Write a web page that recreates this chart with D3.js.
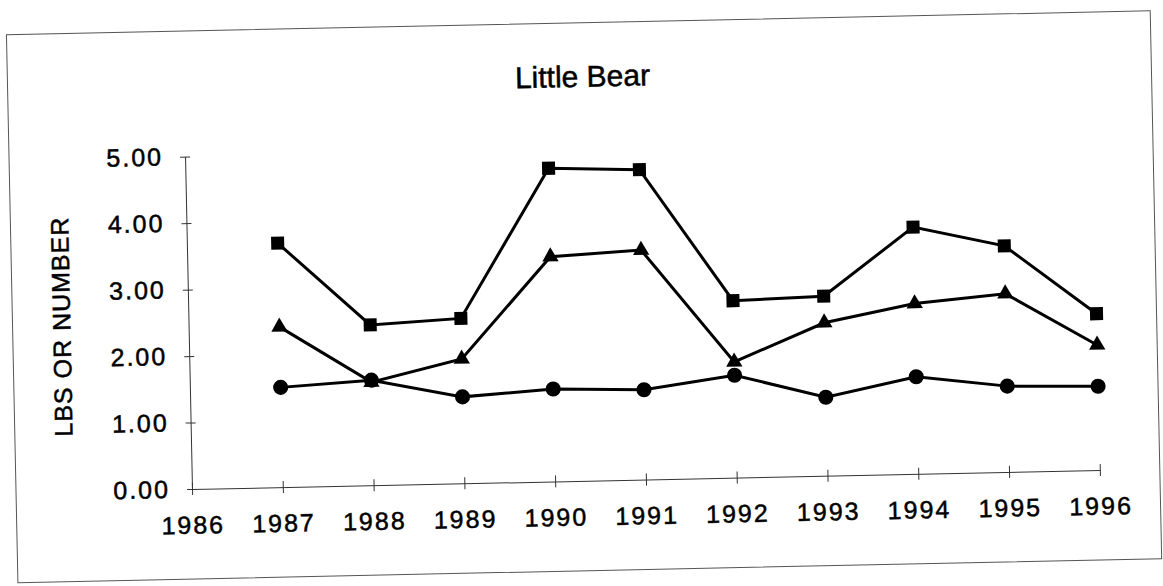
<!DOCTYPE html>
<html>
<head>
<meta charset="utf-8">
<script src="https://cdn.jsdelivr.net/npm/d3@7"></script>
<style>
    body { margin: 0; background: #fff; }
    svg { display: block; font-family: "Liberation Sans", Arial, sans-serif; }
    svg text { fill: #000; stroke: #000; stroke-width: 0.5; }
    .axis path, .axis line { stroke: #333; stroke-width: 1; }
    .axis text { font-size: 25px; letter-spacing: 2px; }
    .series path.line { fill: none; stroke: #000; stroke-width: 3; }
</style>
</head>
<body>
<svg width="1163" height="586"></svg>
<script>
const title = "Little Bear"
const y_label = "LBS OR NUMBER"
const years = [1987, 1988, 1989, 1990, 1991, 1992, 1993, 1994, 1995, 1996]
const x_ticks = [1986, 1987, 1988, 1989, 1990, 1991, 1992, 1993, 1994, 1995, 1996]
const y_ticks = [0, 1, 2, 3, 4, 5]

// three unnamed series, told apart only by marker shape
const squares = [3.67, 2.41, 2.48, 4.71, 4.66, 2.66, 2.70, 3.71, 3.40, 2.35]
const triangles = [2.41, 1.55, 1.87, 3.38, 3.45, 1.74, 2.30, 2.56, 2.68, 1.88]
const circles = [1.50, 1.58, 1.30, 1.39, 1.35, 1.54, 1.18, 1.46, 1.29, 1.26]

const series = [
    {values: squares, symbol: d3.symbolSquare, size: 170},
    {values: triangles, symbol: d3.symbolTriangle, size: 115},
    {values: circles, symbol: d3.symbolCircle, size: 180},
]

const width = 908
const height = 332.5

const x = d3.scaleLinear().domain([1986, 1996]).range([0, width])
const y = d3.scaleLinear().domain([0, 5]).range([0, -height])

const svg = d3.select("svg")

// the source is a slightly skewed scan, so the whole chart sits a little tilted
const g = svg.append("g")
    .attr("transform", "translate(192,489) rotate(-1.2)")

g.append("rect")
    .attr("x", -176)
    .attr("y", -458)
    .attr("width", 1144)
    .attr("height", 548)
    .attr("fill", "none")
    .attr("stroke", "#555")
    .attr("stroke-width", 1)

g.append("text")
    .attr("x", 399)
    .attr("y", -394)
    .attr("text-anchor", "middle")
    .style("font-size", "30px")
    .text(title)

g.append("text")
    .attr("transform", "translate(-127,-165) rotate(-90)")
    .attr("text-anchor", "middle")
    .attr("dy", "0.35em")
    .style("font-size", "25px")
    .style("letter-spacing", "1px")
    .text(y_label)

const x_axis = g.append("g")
    .attr("class", "axis")
    .call(d3.axisBottom(x)
        .tickValues(x_ticks)
        .tickFormat(d3.format("d"))
        .tickSizeInner(6)
        .tickSizeOuter(0)
        .tickPadding(21))

x_axis.selectAll(".tick line").attr("y1", -6)

const y_axis = g.append("g")
    .attr("class", "axis")
    .call(d3.axisLeft(y)
        .tickValues(y_ticks)
        .tickFormat(d3.format(".2f"))
        .tickSizeInner(5)
        .tickSizeOuter(0)
        .tickPadding(17))

y_axis.selectAll(".tick line").attr("x1", 5)

const line = d3.line()
    .x((d, i) => x(years[i]))
    .y(d => y(d))

const s = g.selectAll("g.series")
    .data(series)
    .enter()
    .append("g")
    .attr("class", "series")

s.append("path")
    .attr("class", "line")
    .attr("d", d => line(d.values))

s.selectAll("path.marker")
    .data(d => d.values.map((v, i) => ({v: v, year: years[i], symbol: d.symbol, size: d.size})))
    .enter()
    .append("path")
    .attr("class", "marker")
    .attr("transform", d => `translate(${x(d.year)},${y(d.v)})`)
    .attr("d", d => d3.symbol().type(d.symbol).size(d.size)())
    .attr("fill", "#000")
</script>
</body>
</html>
